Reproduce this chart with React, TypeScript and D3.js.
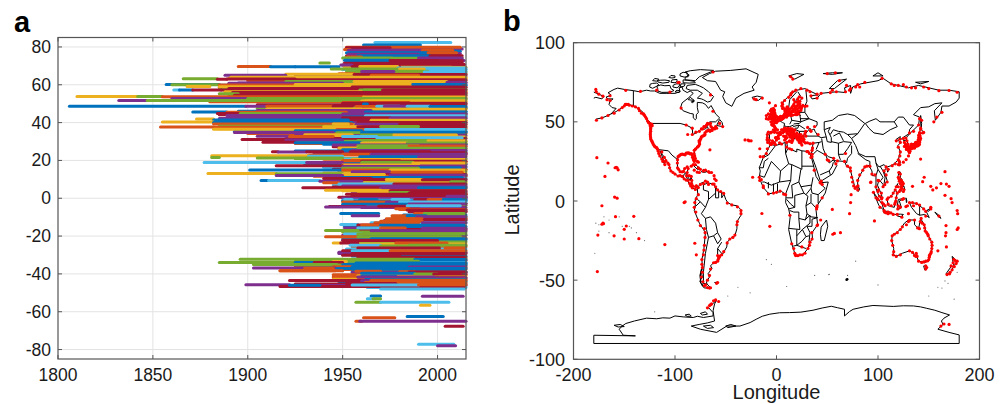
import React from "react";
import * as d3 from "d3";

const B = "#0072BD", O = "#D95319", Y = "#EDB120", P = "#7E2F8E", G = "#77AC30", L = "#4DBEEB", C = "#A2142F";

const yearTicks = [1800, 1850, 1900, 1950, 2000];
const latTicks = [80, 60, 40, 20, 0, -20, -40, -60, -80];
const lonTicksB = [-200, -100, 0, 100, 200];
const latTicksB = [100, 50, 0, -50, -100];

// [latitude, first year, last year, colour]
type Rec = [number, number, number, string];
const recordsBackdrop: Rec[] = [
  [78.9,1955,2013,P],[77.7,1954,2012,B],[76.5,1954,2012,P],[75.3,1952,2013,C],[74.1,1951,2013,G],[72.9,1952,2014,P],[71.7,1951,2013,C],[70.5,1950,2014,C],[69.3,1951,2015,Y],[68.1,1950,2015,L],[66.9,1952,2015,G],[65.8,1948,2015,O],
  [64.6,1925,2015,P],[63.4,1890,2015,Y],[62.2,1900,2015,O],[61,1895,2015,P],[59.8,1885,2015,B],[58.6,1885,2015,C],[57.6,1885,2015,G],[56.6,1888,2015,Y],[55.4,1890,2015,C],[54.8,1890,2015,G],[53,1865,2015,P],[52.2,1880,2015,G],[51,1880,2015,O],[49.4,1905,2015,C],[48,1910,2015,P],[47.6,1905,2015,G],
  [46,1895,2015,B],[45,1885,2015,P],[44.2,1885,2015,C],[43.2,1890,2015,B],[42.2,1885,2015,P],[41,1885,2015,C],[39.9,1882,2015,P],[38.8,1885,2015,Y],[37.2,1883,2015,O],[36.8,1885,2015,Y],[35.4,1893,2015,B],[34.2,1900,2015,O],[33.2,1925,2015,P],[32.4,1930,2015,Y],
  [31.6,1920,2015,C],[30.2,1922,2015,G],[29,1925,2015,O],[28.6,1940,2015,B],[27.2,1945,2015,C],[26,1948,2015,P],[25,1925,2015,B],[23.8,1935,2015,P],[22.9,1932,2015,O],[21,1925,2015,G],[20.8,1950,2015,L],[19.3,1940,2015,O],[18.3,1930,2015,B],[17.9,1950,2015,P],[16.4,1940,2015,L],[15.4,1945,2015,C],
  [14.4,1948,2015,G],[13.4,1940,2015,Y],[12.5,1930,2015,C],[11.6,1935,2015,O],[10.8,1945,2015,L],[10.2,1945,2015,P],[8.9,1945,2015,G],[8.2,1950,2015,Y],[7,1945,2015,L],[6,1945,2015,C],[5,1945,2015,O],[3.5,1955,2015,P],[2.5,1958,2015,Y],[1.7,1957,2015,O],[0.5,1948,2015,C],
  [0,1950,2015,P],[-1,1950,2015,L],[-1.5,1950,2015,B],[-2.6,1952,2015,C],[-3.7,1955,2015,G],[-4.9,1960,2015,P],[-6,1980,2015,O],[-7,1987,2015,C],[-8.8,1982,2015,B],[-9.9,1980,2015,G],[-10.6,1976,2015,O],[-11.8,1972,2015,P],[-13,1965,2015,L],[-14.9,1951,2015,B],[-16.5,1952,2015,C],
  [-17.8,1950,2015,G],[-19.6,1950,2015,P],[-21,1950,2015,O],[-22,1950,2015,B],[-23,1952,2015,G],[-24.2,1955,2015,Y],[-25.6,1955,2015,O],[-26.8,1952,2015,L],[-28.5,1948,2015,P],[-30.6,1955,2015,B],[-31.8,1958,2015,G],[-32.9,1940,2015,C],[-33.8,1940,2015,L],[-34.7,1930,2015,B],
  [-35.7,1925,2015,O],[-36.7,1930,2015,G],[-37.7,1932,2015,O],[-38.9,1955,2015,B],[-39.3,1955,2015,P],[-40.5,1945,2015,O],[-41,1958,2015,Y],[-42,1950,2015,C],[-43,1945,2015,O],[-44,1948,2015,B],[-45.4,1925,2015,C],[-46.2,1930,2015,P],[-47.2,1963,2015,L],
];
const recordsArctic: Rec[] = [
  [82.4,1967,2007,L],[81,1961,1991,B],[79.8,1952,2012,O],[79.6,1952,1975,C],[78.6,1951,1954,O],[78.3,1953,1992,P],[78.2,1992,2008,O],
  [77,1952,1995,B],[76.9,1995,2010,O],[76.1,1953,1990,P],[75.4,1958,1996,B],[75.2,1996,2012,C],[74.7,1952,1960,O],[74.2,1950,1976,G],[74,1976,1990,G],[74.1,1990,2013,P],
  [73,1951,1975,B],[72.8,1975,2000,C],[72.7,2000,2013,C],[71.5,1938,1943,G],[71.2,1955,2008,C],[70.8,2008,2014,C],[70.4,1949,1955,P],
  [69.6,1895,1900,O],[69.6,1900,1912,O],[69.5,1912,1925,B],[69.5,1925,1948,B],[69.6,1955,1980,C],[69.6,1959,1979,Y],[68.9,1979,2015,L],[68.3,1944,1980,G],[68.3,1980,1993,Y],[68,1995,2015,L],[67.2,1957,1995,G],[67,1960,1977,P],[66.8,1993,2015,L],
];
const recordsFifties: Rec[] = [
  [65.6,1920,1956,Y],[65,1888,1920,P],[65.4,1956,2015,C],[65,1965,1990,O],[64,1891,2015,Y],[63.2,1866,1884,G],[62.9,1884,1889,C],[63,1889,1925,C],[62.7,1925,2015,C],
  [61.8,1920,1962,G],[61.7,1956,2005,Y],[61.3,2005,2015,P],[60.8,1890,1950,P],[60.2,1857,1885,B],[60,1860,1885,G],[59.9,1885,1925,O],[60.2,1925,1986,Y],[60.2,1987,2015,B],
  [59.1,1868,1880,Y],[59,1885,1960,Y],[58.8,1955,2015,C],[58,1890,1960,C],[57.3,1861,1864,L],[57.2,1864,1871,B],[57.2,1871,1886,C],[57.3,1886,1958,C],[57.3,1959,1971,G],[57.3,1971,2015,C],
  [56.3,1888,1960,Y],[55.9,1892,2015,C],[55.2,1885,1895,G],[54.4,1893,1960,C],[54.3,1960,2015,C],[53.8,1810,1842,Y],[53.8,1842,1855,G],[53.7,1855,1961,O],[53.5,1961,2015,Y],
  [52.8,1860,1945,P],[52.8,1900,2015,G],[51.7,1832,1847,P],[51.7,1847,1962,G],[51.5,1962,2015,Y],[51.4,1960,1980,Y],[50.6,1950,1985,O],[50.2,1950,2015,C],[49.9,1961,1963,B],
];
const recordsForties: Rec[] = [
  [48.6,1806,1899,B],[48.6,1899,1910,P],[48.6,1910,1945,O],[48.6,1945,1955,C],[48.5,1957,1968,O],[48.6,1968,1980,L],[48.6,1972,1984,P],[48.6,1984,1996,L],[48.5,1996,2015,B],
  [47.2,1910,1960,Y],[47,1961,2015,Y],[46.4,1905,1965,P],[45.6,1871,1889,B],[45.5,1889,1952,O],[45.6,1962,2015,B],[44.8,1884,1896,C],[44.8,1896,1950,G],[44.6,1950,2015,P],
  [43.8,1889,1949,P],[43.6,1962,2015,L],[42.8,1895,1950,P],[42.6,1950,1975,C],[42.6,1975,2015,P],[41.9,1873,1882,Y],[41.4,1882,1953,B],[41.2,1965,2015,Y],
  [40.3,1855,1882,Y],[40.1,1882,1955,B],[40,1958,2015,C],[39.3,1882,1955,O],[39.2,1945,1953,Y],[39.1,1957,1980,P],[39,1980,2015,C],[38.1,1885,1945,G],[37.7,1854,1882,O],[37.6,1882,1940,O],[37.8,1940,1960,Y],[37.8,1958,2015,C],[37.9,1970,1990,G],
  [36.5,1882,1947,Y],[36.4,1947,1962,O],[36.3,1962,2015,L],[35.7,1925,1960,B],[34.8,1893,1945,P],[34.7,1947,1960,G],[34.9,1960,2015,B],[33.6,1930,1955,Y],[33.5,1960,1977,G],[33.5,1977,2010,Y],[32.8,1905,1922,P],[32.7,1922,1945,O],[32.7,1950,1968,L],[32,1968,2013,L],
];
const recordsTropicNorth: Rec[] = [
  [31,1897,1920,C],[30.8,1920,1950,P],[30.6,1958,1995,G],[30.4,1995,2015,Y],[29.6,1908,1925,C],[29.3,1925,1960,B],[29.2,1960,1984,Y],[29.2,1984,2015,G],[28.2,1945,2015,P],[27.8,1958,1990,G],[27.6,1985,2015,O],
  [26.6,1948,1958,Y],[26.5,1958,2015,G],[25.7,1950,1957,B],[25.2,1955,2015,P],[24.6,1913,1916,C],[24.5,1916,1931,P],[24.6,1931,1950,C],[24.6,1954,1996,C],[24,1996,2015,C],[23.3,1950,1965,O],[23.2,1965,2015,P],
  [22.5,1881,1932,Y],[22.2,1932,1950,L],[22,1959,1990,B],[22,1990,2015,P],[21.6,1881,1885,G],[21.3,1905,1950,G],[20.5,1955,2015,Y],[20,1950,1980,O],[19.6,1960,2015,C],[18.9,1877,1931,L],[18.9,1931,1950,P],[19,1960,1987,G],[18.7,1987,2015,Y],
  [17.6,1950,1990,Y],[17.2,1915,1950,C],[16.8,1950,2015,P],[16.1,1990,2012,B],[15.9,1950,1990,G],[14.9,1901,1949,B],[14.9,1950,1975,O],[15,1975,2015,Y],[14,1955,1975,P],[13.7,1976,2013,O],[13.1,1879,1915,Y],[13,1915,1950,G],[12.6,1950,1972,Y],[12.2,1975,2015,P],
  [12,1915,1950,P],[11,1950,1976,B],[11,1976,2013,B],[10.5,1940,1965,C],[9.9,1958,1973,C],[9.9,1973,1992,Y],[9.8,1992,2015,C],[9.4,1907,1911,B],[9.4,1911,1938,L],[9,1938,1960,P],[8.7,2007,2014,G],[8.2,1940,1948,O],[7.6,1948,1977,L],[7.5,1977,2015,C],
];
const recordsEquator: Rec[] = [
  [6.5,1950,2015,P],[5.5,1929,1970,C],[5.6,1970,1990,P],[5.5,1990,2015,B],[4.2,1941,1970,Y],[4,1950,1975,Y],[4,1975,2015,C],[3,1975,1985,G],[2.8,1985,2015,C],[2.1,1952,2015,C],[1.4,1955,2005,C],[1,2005,2015,P],
  [-0.7,1951,1955,L],[-0.7,1959,1968,B],[-0.7,1976,1985,L],[-0.7,1988,1995,C],[-0.7,1995,2005,O],[-0.7,2003,2015,B],[-2,1950,1960,O],[-2,1960,1975,O],[-2.1,1973,1990,P],[-2,1980,2015,L],[-3.2,1950,1985,B],[-3,1985,2015,P],
  [-4.4,1943,1962,C],[-4.6,1941,1969,P],[-4.2,1969,1990,C],[-4,1984,2012,L],[-5.5,1978,1985,O],[-6.2,1984,2015,C],[-7.2,1985,2015,C],[-8.1,1949,1969,B],[-8.1,1988,2000,O],[-8.1,1993,2014,G],[-9.2,1955,1969,P],[-9.3,1976,1984,O],[-9.2,1984,1994,B],[-9.8,1989,2015,P],
  [-10.8,1973,1992,O],[-11.2,1993,2015,C],[-12.2,1970,1992,O],[-12.9,1967,1990,O],[-12.9,1992,2015,P],[-13.9,1949,1958,L],[-14.2,1958,1970,C],[-14.2,1960,1975,O],[-14.3,1970,2014,B],[-15.7,1951,1958,P],[-15.7,1958,1970,L],[-15.7,1970,1983,O],[-15.8,1992,2015,P],
  [-17.1,1941,1958,G],[-17.2,1965,2015,P],[-18.9,1951,1960,L],[-18.9,1958,2015,G],[-20.3,1941,1958,O],[-20.3,1958,2012,G],[-21.4,1965,2015,B],[-22.4,1950,2000,C],
  [-23.6,1945,1949,Y],[-23.6,1949,1958,C],[-23.7,1978,2005,O],[-24.8,1954,1970,L],[-24.8,1985,2015,G],[-25.2,1970,1990,G],[-26.3,1958,2001,C],[-26.3,2004,2014,O],[-27.7,1950,1975,C],[-27.7,1955,1975,L],[-27.8,1975,2015,O],
  [-29.2,1948,1960,P],[-29.2,1955,2015,C],[-31,1958,2015,C],[-30.2,1950,1980,C],
];
const recordsSouth: Rec[] = [
  [-32.3,1896,1950,G],[-32.3,1950,1988,G],[-32.4,1988,2015,B],[-33.3,1925,1990,G],[-33.5,1945,1952,Y],[-34,1885,1925,G],[-34,1925,1935,B],[-34,1935,1950,C],[-34.2,1957,2015,B],[-35,1903,1947,G],[-35.3,1925,1950,G],[-35.2,1950,2015,B],
  [-36.2,1945,1955,O],[-36.2,1955,1985,B],[-36.4,1985,2015,P],[-36.9,1903,1946,P],[-37,1930,1945,O],[-37.2,1947,2015,B],[-38.3,1917,1950,O],[-38.4,1917,1946,O],[-38.6,1957,1970,O],[-38.8,1980,1988,O],[-39,1985,2015,C],
  [-39.7,1960,1988,B],[-40.1,1988,2000,G],[-40,1998,2015,C],[-41.6,1945,1957,O],[-41.3,1960,1978,B],[-41.7,1958,1998,P],[-42.2,1995,2015,P],[-42.8,1945,1957,Y],[-42.9,1962,1997,B],[-43,1978,2014,B],[-43.5,1922,1963,C],[-43.6,1960,1970,P],[-43.4,1965,2015,O],
  [-44.6,1962,2015,O],[-44.7,1962,1978,O],[-45.1,1952,1978,C],[-45.8,1899,1922,P],[-46.6,1917,2014,C],[-46,1922,1938,B],[-45.9,1955,1990,L],[-45.8,1990,2015,O],[-48,1970,2014,L],
];
const recordsPolar: Rec[] = [
  [-51.7,1965,1970,B],[-51.8,1992,2013.5,P],[-53.2,1963,1967,L],[-53.2,1966,1970,G],[-55,1957,1970,G],[-55,1970,2006,L],[-56.6,1991,1996,Y],[-62.5,1984,2003,B],[-63.2,1961,1977.5,O],[-65,1957,1960,O],[-65,1959,2015,P],[-67.7,2004,2013.5,C],[-77.2,1990,2008.6,L],[-78,2000,2009.5,P],
];

// Coastlines and borders, [longitude, latitude]
type Pt = [number, number];
const northAmerica: Pt[] = [[-168,65.6],[-164,66.5],[-163,67],[-166,68.4],[-160,70.5],[-156.5,71.3],[-150,70.5],[-141,69.7],[-135,69],[-128,70],[-124,69.5],[-120,69.5],[-115,68],[-108,68],[-100,68],[-95,69],[-96,71.5],[-93,72],[-92,70],[-88,68.5],[-85,69.5],[-82,68],[-87,65],[-93,62],[-94.5,59],[-92,57],[-85,55.3],[-82,55],[-82,52.5],[-80,51.3],[-79,52],[-79,54.5],[-77,56],[-78,59],[-78,62.3],[-73,62],[-70,61],[-67,58.5],[-64.5,60.3],[-62,57.5],[-60,55],[-56,52.5],[-60,50],[-66,50],[-70,47],[-65,49],[-65,47],[-61,46],[-66,44],[-67,45],[-70,43.5],[-70,41.7],[-74,40.5],[-75.5,38],[-76,35],[-78,34],[-81,31.5],[-80,27],[-80.5,25.2],[-82,27],[-83,29.5],[-85,29.7],[-89,30.2],[-90,29],[-94,29.5],[-97,28],[-97.7,24],[-97.5,21],[-95,18.5],[-92,18.5],[-90.5,20.5],[-87,21.5],[-88,17.5],[-88.5,15.8],[-84,15.8],[-83.3,12],[-83.5,10],[-81,9],[-79.5,9.5],[-77.4,8.7],[-78,7.5],[-80,7.4],[-83,8.3],[-85.5,10],[-87.5,13],[-91,14],[-94,16],[-97,15.8],[-102,18],[-105.5,20.3],[-105.3,22],[-109,26],[-112.5,29.5],[-114.7,31.7],[-112,27],[-110,23],[-112,25],[-115.5,29.5],[-117,32.5],[-120.5,34.5],[-122.5,37.5],[-124.3,40.3],[-124,46],[-122.5,48.5],[-127,51],[-130,54.5],[-133,57],[-137,58.5],[-140,60],[-146,61],[-150,60.5],[-152,59],[-158,56.5],[-163,55],[-158,58.5],[-162,59],[-165,61],[-164,63],[-161,64.5],[-166,64.5],[-168,65.6]];
const aleutians: Pt[] = [[-163,55],[-168,53.5],[-172,52.5],[-178,51.7]];
const chukotkaEnd: Pt[] = [[-180,68.8],[-175,67.5],[-170,66],[-172,64.5],[-178,65.5],[-180,65]];
const baffin: Pt[] = [[-62,66],[-65,63],[-68,62.5],[-72,64],[-74,64.5],[-78,65],[-73,68],[-78,70],[-85,70],[-89,71],[-88,73],[-80,73.7],[-76,72.7],[-72,71.5],[-67,69],[-62,66]];
const victoriaIsland: Pt[] = [[-117,69.5],[-113,68.6],[-105,68.7],[-101,69.8],[-104,71],[-105,73],[-110,72.8],[-114,73.3],[-118,72.5],[-117,71],[-117,69.5]];
const banksIsland: Pt[] = [[-125,72],[-122,71.2],[-118,72.5],[-116,73.5],[-118,74.5],[-122,74.3],[-124.5,73.8],[-125,72]];
const ellesmere: Pt[] = [[-90,76.5],[-85,76.3],[-80,76],[-76,78.5],[-65,81.5],[-62,82.5],[-75,83],[-85,82.3],[-90,81.5],[-86,79.5],[-90,78],[-90,76.5]];
const devonIsland: Pt[] = [[-92,74.7],[-86,74.5],[-80,74.7],[-81,75.6],[-88,76.3],[-92,76.5],[-92,74.7]];
const melvilleIsland: Pt[] = [[-117,75.2],[-112,74.5],[-106,75],[-105.5,76],[-110,76.4],[-114,76.3],[-117,76.2],[-117,75.2]];
const axelHeiberg: Pt[] = [[-95,79],[-91,78.3],[-87,78.5],[-88,80],[-88,81],[-92,81.3],[-95,80.3],[-95,79]];
const princeWales: Pt[] = [[-102,72],[-98,71.5],[-96,72.5],[-95,74],[-99,74],[-102,73],[-102,72]];
const somerset: Pt[] = [[-95,72],[-91,72.5],[-90,74],[-94,74],[-95,72]];
const bathurst: Pt[] = [[-104,75],[-100,74.7],[-98,75.5],[-98,76.8],[-103,76.5],[-104,75]];
const ringnes: Pt[] = [[-106,78],[-103,77.7],[-100,78],[-100,79],[-104,79.3],[-106,78]];
const princePatrick: Pt[] = [[-122,76],[-118,75.7],[-116,77],[-120,77.4],[-122,76]];
const kingWilliam: Pt[] = [[-100,69],[-96,68.5],[-95,69.5],[-98,70],[-100,69]];
const coats: Pt[] = [[-84,62.7],[-81,63],[-83,62],[-84,62.7]];
const southampton: Pt[] = [[-87,64],[-81,63.5],[-85,65.5],[-87,64]];
const newfoundland: Pt[] = [[-59,47.7],[-53,47],[-53.5,49.5],[-56,51.5],[-59,47.7]];
const vancouverIsland: Pt[] = [[-128,50.5],[-123.5,48.4],[-125,50],[-128,50.5]];
const cuba: Pt[] = [[-85,22],[-80,23],[-74.5,20.2],[-78,20],[-82,22.5],[-85,22]];
const hispaniola: Pt[] = [[-74,18.5],[-72,20],[-68.5,18.6],[-71,18],[-74,18.5]];
const greenland: Pt[] = [[-73,78],[-68,76],[-60,75.5],[-55,70],[-51,69],[-53,66],[-50,62],[-44,59.8],[-40,65],[-32,68],[-22,70],[-24,72],[-20,75],[-18,80],[-30,83.5],[-45,82.5],[-60,82],[-66,80.5],[-73,78]];
const iceland: Pt[] = [[-24,65.5],[-19,66.3],[-14,65.5],[-18,63.5],[-22.5,64],[-24,65.5]];
const southAmerica: Pt[] = [[-77.4,8.7],[-75,11],[-72,12],[-72,10],[-68,11.5],[-62,10.7],[-60,8.5],[-57,6],[-52,4.7],[-50,1],[-48,-1],[-44,-2.5],[-39,-3],[-35,-5.5],[-35,-9],[-39,-13],[-39,-17.5],[-41,-22],[-45,-23.5],[-48.5,-26],[-49,-29],[-53,-33.5],[-57,-35],[-58,-38],[-62,-39],[-65,-41],[-63.5,-42.5],[-67.5,-46],[-66,-48],[-69,-51],[-68.5,-52.5],[-65,-54.7],[-71,-55],[-74.5,-52],[-75.5,-47],[-73,-42],[-73.5,-37],[-71.5,-30],[-70,-20],[-76,-14],[-81,-6],[-80,-2.5],[-80,1],[-77.5,4],[-78,7.5],[-77.4,8.7]];
const chileFjords: Pt[] = [[-73,-42],[-74,-45],[-73,-48],[-75,-50],[-72,-52],[-74,-53],[-71,-54]];
const chileFjordsOuter: Pt[] = [[-74,-43],[-75,-46],[-74.5,-49],[-75.5,-51],[-73,-53],[-72,-54.5]];
const falklands: Pt[] = [[-61,-51.5],[-58,-51.3],[-59,-52.3],[-61,-51.5]];
const africa: Pt[] = [[-6,35.8],[-1,35],[10,37.2],[11,33.5],[15,32.3],[20,31],[20,32.8],[25,31.7],[32,31.2],[34.2,28],[37,21],[39,15.5],[43,11.5],[51,12],[48,5],[40,-3],[39,-6],[40.5,-15],[35,-20],[35.5,-24],[32.7,-26],[31,-30],[26,-34],[20,-34.8],[18,-33],[15,-27],[12,-18],[13.5,-10],[12,-5],[9,-1],[9.5,4],[5,6],[-4,5],[-7.5,4.5],[-13,8.5],[-17,14.7],[-16,19],[-17,21],[-13,27.5],[-9.5,31],[-6,35.8]];
const madagascar: Pt[] = [[49.3,-12],[50.5,-16],[47,-25],[44,-25],[43.3,-21],[44,-16.5],[49.3,-12]];
const eurasia: Pt[] = [[-9,37],[-9.5,39],[-9,43.5],[-1.7,43.5],[-1,46],[-4.7,48.5],[-1.5,49],[1.5,51],[4,52],[8,54],[8.5,57],[10.5,57.7],[10,54.5],[14,54],[19,54.5],[21,57],[24,57.5],[23,59.5],[30,60],[23,60],[21,61],[25,65],[22,65.8],[17.5,62],[18,59.5],[16.5,56.5],[13,55.4],[11,59],[7,58],[5,60],[7,63],[14,67.5],[20,70],[28,71],[41,67],[33,66.5],[35,64.5],[40,65],[44,68],[54,68.7],[60,69],[68,68.5],[67,71.5],[73,73],[73,68],[75,72],[83,74],[100,76],[105,77.5],[113,74],[130,71.5],[140,73],[160,70],[170,70],[180,69],[180,65],[177,62.5],[170,60],[163,60],[162,56],[156.5,51],[155.5,57],[163,62],[156,61.5],[150,59.5],[142,59],[135,54.5],[141,53],[140,48],[132,43],[127.5,39.8],[129.5,36],[126.5,34.5],[126,37],[125,39.5],[121.5,39],[122,40.7],[118,39],[122.5,37],[119.5,35],[122,31],[120,26],[114,22.5],[109,21.5],[106,19],[109,13],[105,9],[105,10.5],[101,13.5],[99.5,10],[103.5,4],[104,1.5],[101,3],[98,8],[98,16],[94.5,16],[94,19],[91,22.5],[87,21.5],[82,16],[80,13],[80,10],[77.5,8],[73,19],[72,21],[69,22],[67,25],[57,25.5],[56,27],[51,28],[48,30],[50,26.5],[52,24],[56,26],[59.5,22.5],[55,17],[45,13],[43,13],[39,21],[35,28],[34.5,31.5],[36,36],[30,36.3],[27,37],[26.5,40],[29,41],[41,41],[38,44],[37,45.5],[34,44.5],[33,46],[28,42],[26,40.7],[23,40.5],[24,38],[23,36.5],[20,39.5],[19,42],[13.5,45.5],[12.5,44],[16,41.7],[18.5,40],[16,38],[12.5,41.5],[9,44.3],[3.5,43],[0,39.5],[-2,37],[-5.5,36],[-9,37]];
const caspian: Pt[] = [[47,45],[53,46.5],[51,44],[54,40],[54,37],[50,37.5],[49,40.5],[47,45]];
const britain: Pt[] = [[-5.5,50],[1,51],[1.7,52.7],[-1.5,55],[-2,57.5],[-5,58.5],[-5,55],[-3,53.5],[-5,52],[-3,51.4],[-5.5,50]];
const ireland: Pt[] = [[-10,52],[-6,52.2],[-6,55],[-10,54],[-10,52]];
const svalbard: Pt[] = [[12,79],[20,80.5],[27,80],[18,77],[12,79]];
const novayaZemlya: Pt[] = [[52,71],[57,71],[69,77],[60,76],[52,71]];
const franzJosef: Pt[] = [[46,80.5],[55,81],[65,81],[55,80],[46,80.5]];
const severnaya: Pt[] = [[95,79],[105,79],[100,81],[95,79]];
const newSiberian: Pt[] = [[137,75],[150,75.5],[142,74],[137,75]];
const honshu: Pt[] = [[131,34],[136,34],[140,35],[142,39.5],[140.5,41],[139.5,38],[136,36.5],[132,35.5],[131,34]];
const hokkaido: Pt[] = [[140,42],[142,45.5],[145,43.5],[141,42],[140,42]];
const kyushu: Pt[] = [[130,31.5],[132,33],[130,33.5],[130,31.5]];
const sakhalin: Pt[] = [[142,54],[143,49],[142.5,46],[142,50],[142,54]];
const taiwan: Pt[] = [[121,25],[122,24.8],[120.8,22],[120,23],[121,25]];
const hainan: Pt[] = [[109,20],[111,20],[109.5,18.2],[109,20]];
const sriLanka: Pt[] = [[80,9.7],[82,7.5],[80.5,6],[80,9.7]];
const luzon: Pt[] = [[120,16],[120.5,18.5],[122,18.3],[122,15],[124,13],[120.7,14],[120,16]];
const visayas: Pt[] = [[122,11.5],[125,12],[125,10],[122,10],[122,11.5]];
const palawan: Pt[] = [[117.2,8.4],[119.5,11],[119,10],[117.2,8.4]];
const mindanao: Pt[] = [[122,7],[125.5,9.5],[126.5,7],[124,6],[122,7]];
const borneo: Pt[] = [[109,1],[113,3],[117,7],[119,5],[117.5,1],[116,-4],[110,-3],[109,1]];
const sumatra: Pt[] = [[95.5,5.5],[104,-2],[106,-6],[101,-3],[95.5,5.5]];
const java: Pt[] = [[105,-6.5],[110,-6.5],[114.5,-8],[106,-7.5],[105,-6.5]];
const sulawesi: Pt[] = [[120,1],[125,1.5],[121,0],[123,-4],[120,-5.5],[119,-3],[120,1]];
const lesserSunda: Pt[] = [[116,-8.5],[122,-8.3],[125,-8.5],[123,-10],[119,-9.5]];
const moluccas: Pt[] = [[127.5,2],[128.5,0],[128,-1],[127.5,2]];
const newGuinea: Pt[] = [[131,-1],[138,-1.5],[147,-6],[150.5,-10.5],[146,-8.5],[141,-9],[138,-8],[133,-4],[131,-1]];
const newBritain: Pt[] = [[148,-6],[152,-4.5],[150,-6.5],[148,-6]];
const solomons: Pt[] = [[156,-7],[160,-9],[162,-11],[159,-9.5],[156,-7]];
const australia: Pt[] = [[114,-22],[122,-18],[126,-14],[130,-12],[136,-12],[136,-15],[140,-17.5],[142,-11],[145.5,-15],[147,-19],[153,-26],[153,-31],[150,-37.5],[146,-39],[140,-38],[138,-35],[136,-35],[135,-33],[131,-31.5],[124,-33],[118,-35],[115,-34],[115.5,-30],[113.5,-25],[114,-22]];
const tasmania: Pt[] = [[145,-41],[148,-41],[147,-43.5],[146,-43.5],[145,-41]];
const newZealandNorth: Pt[] = [[173,-35],[178,-38],[175,-41],[174,-39],[173,-35]];
const newZealandSouth: Pt[] = [[172.5,-41],[174,-42],[170.5,-46],[167,-46],[172.5,-41]];
const antarctica: Pt[] = [[-180,-84.8],[-139,-85.2],[-151,-84.8],[-155,-81],[-152,-79],[-148.5,-77.4],[-140,-75.8],[-128,-74],[-118,-74.4],[-112,-73.8],[-105,-74],[-100,-72.6],[-92,-73.2],[-82,-73.6],[-78,-72.8],[-72,-73.6],[-62.5,-72.6],[-62.5,-70.5],[-67,-67.3],[-59,-62.7],[-61,-65],[-62.5,-69.4],[-61,-75.8],[-68,-77],[-75.5,-77.9],[-84,-79],[-75,-81],[-59,-83],[-49,-79],[-36,-79],[-26,-76.8],[-20,-74.7],[-14,-72.8],[-6.6,-71.5],[3,-70.6],[13,-70.5],[24,-70.2],[36,-69],[45,-67.6],[54,-66.5],[60,-67.4],[67,-68.4],[67,-72.6],[72,-69.8],[75.5,-68.4],[86,-66.9],[95,-66],[105,-66.3],[115,-66.6],[125,-66.2],[135,-66.3],[142,-66.9],[148,-67.8],[156,-69],[163,-70.5],[170.5,-72],[165,-74],[162.5,-75.8],[164,-78],[159,-81],[170,-83],[180,-84.6],[180,-90],[-180,-90],[-180,-84.8]];
const iceShelfIslands: Pt[][] = [
  [[-50,-79],[-45,-78],[-40,-79],[-48,-80],[-50,-79]],[[-72,-79],[-65,-78.5],[-62,-80],[-68,-80.5],[-72,-79]],[[-160,-78.5],[-154,-78],[-150,-79.3],[-156,-79.6],[-160,-78.5]],[[-75,-71],[-70,-70],[-68,-71.5],[-73,-72],[-75,-71]],[[-90,-72],[-86,-71.5],[-84,-72.7],[-88,-72.9],[-90,-72]],
];

const bordersNorthAmerica: Pt[][] = [
  [[-141,69.7],[-141,60]],[[-137,58.5],[-133,56]],[[-123,49],[-95,49],[-89,48],[-83,46],[-82.5,42],[-79,43],[-75,45],[-70,45.5],[-68,47],[-67,45]],
  [[-117,32.5],[-106.5,31.7],[-103,29],[-97.2,26]],[[-92,14.5],[-91,17],[-89,18],[-89,15.5]],[[-89,15.5],[-87,13]],[[-88,15.8],[-85,13],[-84,15.8]],[[-85.5,11],[-83.7,11]],[[-83,8.3],[-82.7,9.5]],
];
const bordersSouthAmerica: Pt[][] = [
  [[-80,-3.5],[-75,-0.5],[-78,1]],[[-72,12],[-72,7],[-67,6],[-67,1]],[[-75,-0.5],[-70,-4],[-67,1]],[[-70,-4],[-74,-8],[-70,-11]],
  [[-70,-11],[-65,-10],[-60,-14],[-58,-20],[-62,-22],[-67,-23],[-69,-18],[-70,-11]],[[-58,-20],[-54.5,-24],[-58,-27],[-62,-22]],[[-67,-23],[-70,-33],[-72,-45],[-72,-52],[-68.5,-52.5]],
  [[-58,-34],[-58,-30],[-53.5,-33.5]],[[-58,-30],[-54,-26]],[[-60,8.5],[-60,2],[-57,2],[-57,6]],[[-54,5.5],[-54,2]],[[-52,4],[-54,2]],[[-67,1],[-60,5]],
];
const bordersAfrica: Pt[][] = [
  [[-1,35],[-8,29],[-13,27.5]],[[-17,21],[-13,21],[-12,25],[-8,27]],[[-5,25],[-12,15],[-16.5,16]],[[-5,25],[4,19],[12,23.5]],[[9,30],[12,23.5]],[[8.5,37],[9,30],[11,33]],[[25,31.7],[25,20]],[[25,20],[15,23],[12,23.5]],[[25,22],[37,22]],
  [[24,20],[22,12],[27,5]],[[15,23],[14,13]],[[3,12],[14,13]],[[4,19],[3,12]],[[-12,12],[-5,10],[3,12]],[[14,13],[9,4.5]],[[9.5,2],[16,2],[15,10],[22,12]],[[12,-5],[18,-4],[18,3.5],[27,5],[31,3],[29,-3],[30,-8],[28.5,-12],[22,-11],[22,-7],[17,-7],[13,-6]],
  [[36,15],[34,8],[35,5],[41,4],[48,8],[43,11]],[[24,9],[34,10]],[[41,-1.5],[41,4]],[[34,4.5],[34,-1],[39,-4.5]],[[34,-1],[29,-3]],[[30,-8],[34,-10],[40.5,-10.5]],[[12,-17.3],[23,-18],[22,-11]],[[20,-18],[20,-28],[16.5,-28.5]],
  [[20,-22],[25.5,-18],[29,-22.5],[25,-25.5],[20,-28]],[[28,-12],[33,-9],[33,-14],[25.5,-18]],[[40.5,-10.5],[35,-11.5],[35,-16],[30,-16],[33,-20],[32,-26]],[[-3,5],[-3,11]],[[1,6],[1,11]],[[-8,8],[-8,12]],[[29,-22.5],[32,-22]],[[20,-28],[29,-30]],[[-14,12],[-12,12]],[[10,1],[14,-2],[18,-4]],[[34,8],[29,4]],
];
const bordersEurope: Pt[][] = [
  [[-1.7,43.4],[3,42.4]],[[-7,37],[-7,42],[-9,42]],[[3,50.8],[6,49.5],[8,49],[7.5,47.5]],[[7.5,47.5],[7,44]],[[7.5,47.5],[10,47],[13,47],[17,48]],[[14,54],[15,51],[24,50]],[[6,51],[7,53.5]],[[13,48.5],[15,51]],[[23,54.3],[24,50],[22.5,49]],[[17,48.7],[22.5,49]],[[16.5,47],[22,48],[21,46],[18,46]],
  [[22,48],[28,45.5]],[[22.5,44],[28,44]],[[14,45.5],[19,45],[22.5,44],[23,41],[20,41]],[[24,50],[32,52],[40,50],[40,48],[38,46.5]],[[21,56],[28,56]],[[23.5,52],[32,52]],[[28,60],[28,56],[32,52]],[[12,59],[13,64],[20,69]],[[24,66],[21,69]],[[28,60],[30,63],[29,70]],[[26,41.5],[28,42]],[[9,54.8],[9.8,54.8]],[[24,54],[21,55]],
];
const bordersAsia: Pt[][] = [
  [[47,50],[55,51],[61,54],[70,55],[77,54],[87,49]],[[47,50],[47,45]],[[87,49],[80,42.5],[70,42],[66,43.5],[61,44],[56,45],[53,42]],[[87.5,49],[92,50.5],[98,52],[102,50],[107,50],[116,50],[119,47],[112,45],[105,42],[96,43],[91,46],[87.5,49]],
  [[116,50],[120,53],[125,53],[131,48],[135,48],[131,45],[131,43]],[[80,42.5],[74,39.5],[78,35],[81,30],[88,28],[97,28],[98,24],[101,21.5],[106,23],[108,21.5]],[[74,35],[74,30],[70,27],[69,24]],[[74,37],[70,33],[66,29.5],[61,29.5],[63,26]],[[61,29.5],[61,36.5]],[[61,36.5],[54,37.5]],[[61,36.5],[66,37.5],[74,37]],[[56,41],[62,43],[66,38]],
  [[44.5,39.5],[46,33],[48,30]],[[36,36.5],[42,37],[44.5,37.5]],[[41,41],[44,40],[49,40.5]],[[36,29.5],[40,32],[47,29.5]],[[43,16.5],[52,19],[53,16.5]],[[52,19],[55,22],[56,24.5]],[[42,37],[39,32.5]],[[100,20],[98,16]],[[98,24],[100,20]],[[102,22],[105,19],[107,15],[106,11]],[[100,20],[105,15],[103,13]],[[88,26],[92,25],[92,21]],[[125,38],[128.5,38.5]],[[124.5,40],[130.5,42.5]],[[70,42],[74,39.5]],[[36,33],[35,31]],[[80,30],[88,26]],
];
const bordersOceania: Pt[][] = [[[141,-2.5],[141,-9]]];

// Tide gauge stations, [longitude, latitude]
const stationsPacificAmerica: Pt[] = [[-178,70.5],[-177.5,69],[-175,67.5],[-171,66.2],[-167,64],[-164,66.5],[-164,63.5],[-177.4,51],[-172,52.5],[-166,54],[-160,55.5],[-155,57.5],[-152,59],[-150,60],[-149,61],[-147.5,61],[-146,61],[-145,60.5],[-142,60],[-139,59.5],[-136,58.5],[-135,57],[-133,55.5],[-131,55],[-130,54],[-129,53],[-128,52],[-127,50.5],[-126,49.5],[-125,49],[-124,48.5],[-123,48],[-124,47],[-124,46],[-124,45],[-124,44],[-124.3,43],[-124.3,42],[-124.2,41],[-124,40],[-123.8,39],[-123,38],[-122.5,37.5],[-122,36.8],[-121.5,36],[-120.7,35.2],[-120,34.5],[-119,34],[-118,33.7],[-117.5,33],[-117,32.5],[-116.5,31.5],[-116,30],[-115,28.5],[-113,26.5],[-112,25],[-110,23],[-109.5,25],[-110.5,27.5],[-113,31],[-109,25.5],[-107,24],[-106,23],[-105.3,21],[-104,19],[-102,18],[-100,17],[-97,15.8],[-95,16],[-93,15.5],[-91,14],[-89,13.2],[-87,13],[-85.5,11],[-84.5,9.5],[-83,8.3],[-80,7.3],[-79.5,9],[-79,9.4],[-123,48.5],[-122.5,47.5],[-130.5,54.5],[-124.5,47.5]];
const stationsGulfAtlantic: Pt[] = [[-97,28],[-96,28.5],[-95,29],[-94,29.5],[-93,29.7],[-92,29.5],[-91,29.3],[-90,29.2],[-89,30.3],[-88,30.3],[-87,30.4],[-86,30.2],[-85,29.7],[-84,30],[-83,29],[-82.7,27.7],[-82,26.7],[-81.8,26],[-81,25],[-80.2,26],[-80,27],[-80.6,28.5],[-81.3,30],[-81,32],[-80,32.7],[-79.5,33],[-78,34],[-77,34.6],[-76.5,35],[-75.7,36],[-76,37],[-76.3,38],[-75.5,38],[-75,39],[-74.5,39.5],[-74,40.6],[-73,41],[-72,41.2],[-71,41.5],[-70.5,42],[-70.5,43],[-69,44],[-68,44.4],[-67,44.7],[-66,44.8],[-65.5,44],[-64,44.8],[-63.5,44.6],[-63,46],[-64.5,47],[-66,48.5],[-68,49],[-70,47],[-53,47],[-59,46],[-60,47],[-56,49],[-61,45.5],[-62,45.8],[-71,46.8],[-71.5,47],[-69,48],[-65,49],[-74,45.5],[-73,45.5],[-79.5,43.5],[-83,42],[-76,44],[-87.5,42],[-83,46],[-89,48],[-65.6,32.3],[-31,38.6],[-27,38],[-62.6,81.5],[-65,67],[-94,58.7],[-62.6,56.7],[-148.5,69.9],[-134,69.3],[-118,70],[-105,68.8],[-96,75],[-97,74.8],[-97.5,21],[-97.7,24],[-97.5,26],[-96.5,20],[-95,18.5],[-93,18.4],[-91.5,18.7],[-90.5,20.5],[-88,21.5],[-87,20.5],[-88,18],[-88.5,16],[-86,16],[-84,15.5],[-83.5,13],[-83.7,11],[-82.5,9.5]];
const stationsCaribbean: Pt[] = [[-82,23],[-80,23],[-77,21],[-75,20],[-76,18],[-72,19],[-70,19.5],[-67,18.5],[-66,18],[-64,18],[-61.5,16],[-61,14],[-59.5,13],[-68,12],[-70,12.5],[-75,10.5],[-72,11],[-67,10.5],[-63,10.7],[-61.5,10.7],[-60,9],[-78,18.2],[-84,22],[-78,25],[-77,24.5],[-81,19.5],[-79,9.6],[-77,8.5]];
const stationsPacificIslands: Pt[] = [[-177,27.4],[-166,24],[-169,15.5],[-159,21],[-158,21.3],[-157,20.9],[-156,19.7],[-159.5,2.5],[-157,1.8],[-172,-3],[-158.6,-9.9],[-140.6,-9.7],[-172,-14.7],[-170.5,-14.3],[-176,-21.5],[-160,-22],[-148,-15.8],[-150,-17.9],[-150,-24],[-135.6,-23.8],[-176.5,-44.6],[-91,-1],[-90,-0.5],[-110,-27.5],[-80.5,-26.7],[-79,-34],[142,26.5],[166,18.5],[162,11],[170,9.3],[167.4,10.7],[134,9.3],[152,9.3],[157.6,8.3],[154,7],[166,3.6],[144,12.2],[145.5,15],[178,-6],[179,-17],[178,-18],[167,-15.5],[167,-20],[166.5,-22],[159,-31.5],[167.4,-29],[160,-9.5],[152,-5],[172,1.5],[173,-1],[-171,-14],[178.5,-8]];
const stationsSouthAmerica: Pt[] = [[-77,4],[-79,1.5],[-80.5,-1],[-81,-4],[-79.5,-7],[-77.5,-12],[-75,-15.5],[-71,-17.5],[-70.3,-20],[-70.4,-23],[-71,-28],[-71.5,-31],[-72,-34],[-73.5,-37],[-73.5,-40],[-73,-42],[-73,-45],[-74,-48],[-72.5,-51],[-71,-53.5],[-70,-53],[-68,-54.7],[-66,-55],[-65,-54.8],[-58,-51.5],[-59,-52],[-68,-50],[-66,-47],[-65,-43],[-62,-39],[-60,-38.8],[-58,-38],[-57,-36],[-58,-34.5],[-56,-34.8],[-54,-34],[-52,-32],[-48.6,-26.5],[-46,-24],[-43,-23],[-41,-21.5],[-39,-15],[-38.5,-13],[-35,-8],[-35,-6],[-38.5,-3.7],[-44,-2.5],[-48.5,-1.3],[-52,4.8],[-55,6],[-58,7],[-57.5,-37],[-56.5,-35.5],[-64,-65],[-60,-62.5],[-57,-63.5],[-68,-67.5],[-62,-63],[-66,-66],[-65,-65.5]];
const stationsAfrica: Pt[] = [[-6,35.7],[-9,33],[-10,30],[-13,28],[-16,28],[-17,15],[-16.5,13],[-13,9.5],[-13,8.5],[-8,4.5],[-3,5],[0,5.5],[3.5,6.3],[7,4.4],[9,4],[13.2,-9],[18.5,-34],[18,-33],[17,-30],[15,-27],[19,-34.5],[21,-34.5],[23,-34],[25.5,-34],[28,-33],[31,-30],[32.5,-28],[33,-26],[35,-24],[34.8,-20],[39.5,-5],[39.7,-4],[40,-3],[45,2],[45,10.5],[43,11.5],[37.2,19.5],[35,28],[34,27.5],[32.5,30],[31,31.2],[30,31.2],[35,32],[35.5,33.5],[36,36.5],[15,32.5],[13,33],[10,34],[10,37],[3,36.8],[-1,35.7],[-5,35.8],[-14.4,-7.9],[-6.6,-16],[55,-5.3],[72,-8],[73,-1],[55.5,-21],[57,-20.5],[63,-20],[96.5,-12.6],[40.5,-15],[-25,38],[-28,38.5],[-16.5,33],[-23.5,15],[-15,13.5],[25,-29],[40,-15.5],[43.5,-12]];
const stationsEurope: Pt[] = [[-5.5,50],[-4,50.3],[-2,50.7],[0,50.8],[1.3,51.2],[1.7,52.7],[0,53.5],[-1.5,55],[-2,56],[-2,57.5],[-3,58.5],[-5,58],[-6,57],[-5,55.5],[-3.5,54.5],[-3,53.5],[-4.5,53],[-5,52],[-3.5,51.5],[-6,54],[-8,55],[-10,54],[-10,52],[-8,51.7],[-6,52.5],[-6,53.3],[-7,62],[-1,60.2],[3,51.3],[4,52],[5,53],[7,53.6],[8.5,54],[8.5,55.5],[8.2,57],[10.5,57.5],[10.5,56],[10,54.5],[11,54],[12,54.3],[13.5,54.3],[14.5,54],[16,54.3],[18.5,54.6],[20,54.5],[21,55.5],[21,57],[24,57.2],[24.5,58.5],[23.5,59],[25,59.5],[28,59.8],[30,60],[26,60.4],[23,60],[21.3,61],[21.5,63],[25,65],[22.5,65.8],[21,64.5],[18,62.5],[17,61],[17.5,60],[18.5,59.5],[16.7,58],[16.5,56.5],[14.5,55.7],[13,55.4],[12.5,56.5],[11.8,58],[11,59],[10.5,59.5],[8.5,58.2],[6,58.5],[5.2,60],[5.5,62],[8,63.5],[12,65.5],[14.5,68],[19,70],[24,71],[30,70],[33,69],[40,67.5],[34,66.5],[40,65],[-1,46],[-1.5,44],[-2,43.4],[-5,43.5],[-8,43.5],[-9,42],[-9,40],[-9.3,38.7],[-8.7,37],[-6,36.5],[-5.5,36],[-4,36.7],[-2,36.8],[0,38.5],[0,40],[2,41.3],[3,42.5],[4,43.4],[6,43.1],[7.5,43.8],[9,44.3],[10.3,43],[12,42],[13.5,41.2],[15,40],[16,38.5],[15.5,38],[13,38],[12.5,37.7],[15,37],[9,39.2],[9.5,41],[8.5,40.5],[18,40.5],[16,41.5],[14,42.3],[13.5,43.6],[12.4,44.5],[12.5,45.4],[13.7,45.7],[15,44.7],[16.5,43.5],[19,42],[19.5,40.5],[21,38.5],[22.5,37],[23.5,38],[24,40],[23,40.5],[26,40.8],[26,39],[27,37.5],[28.5,36.7],[30.5,36.8],[33,36.2],[25,35.3],[28,42.5],[28.7,44],[30.7,46.5],[33.5,44.5],[37.5,47],[41,42],[29,41],[34,44],[-1.5,49.5],[-3,48.7],[-4.7,48.4],[-2.5,47.3],[0,49.5],[1.5,50.5],[2.5,51],[-14,65],[-20,64],[-22,64.5],[-3,52.5],[-1,51.5],[-2.5,54],[-4,56],[3.5,51.8],[4.5,52.5],[6,53.4],[5,51.5],[7,54],[9,54.5],[8,55],[9.5,56],[11,56],[12,55.5],[11,55],[19,56],[18,57.5],[16,60],[20,60],[22,59],[20,58],[14,67],[16,69],[6,61],[6.5,59],[-2,47],[-1.2,45],[-4,47.8],[1,43],[5,45],[8,46],[11,46],[10,45],[12,45],[14,44],[16,43],[17,41],[11,42.5],[13,40.5],[18,42],[20,39.5],[23,38.5],[25,38],[24,36.5],[27,39],[22,40],[8,38.5],[5,36],[2,39.5],[-3,36.7],[20,41],[17,44],[15.5,45.5],[3,43.2],[-1,52.5],[-2,53],[-3,55],[-4,57],[-1,54],[-7,53],[-7.5,52],[2,52],[3,53],[4,53.5],[6,52],[7,52.5],[8,53],[10,53],[9,56.5],[10,57],[12,56.5],[13,58],[15,57],[15,59],[19,58.5],[22,57],[22,55],[23,61.5],[23,63],[20,62.5],[17,64],[1,45],[-3,45],[-6,43],[-1,40],[4,42],[7,41],[10,40],[11,44],[14,41.5],[16,40],[6,45],[9,45.5],[18,45],[20,43],[22,42],[24,42],[-4,38],[-7,38.5]];
const stationsAsia: Pt[] = [[44,68],[53,68.5],[59,69],[68,69],[69,73],[80,73.5],[87,75],[104,77.5],[113,74],[128,72],[137,71.5],[150,71],[160,69.7],[170,69.8],[178,68.7],[73,71],[55,70],[62,76],[72,70],[78,72],[82,72],[58,81],[50,80.5],[14,78.5],[16,77],[116,73],[120,73],[125,73.5],[133,71.5],[145,72],[35,29.5],[50,26],[51.5,25.5],[48,29.5],[56.3,27],[58.5,23.5],[60,25.3],[67,25],[70,22],[72.7,21],[73,19],[74,15],[75,12],[76,9.5],[77.5,8],[79,9],[80,13],[82,16.5],[85,19.5],[87,21.5],[89,22],[92,22],[94,17],[97,16.5],[98,9],[100,6],[101.5,3],[103.5,1.3],[104,2],[103.3,5],[100.5,7],[100,13],[101,12.8],[105,9],[106.7,10.3],[109,12],[108,16.5],[106,19],[108,21.5],[110,20],[114,22.3],[117,23.5],[120,26],[121.5,28.5],[122,31],[120,34],[122,37],[118,38],[121.5,39],[125,39.5],[126,37],[126,34.5],[128,35],[129.5,36],[128.5,38],[127.5,39.8],[131,43],[135,44],[140,48],[141,52],[142,46],[143,51],[155,50],[158,53],[163,56],[120,23],[121,25],[121.5,23],[44,12.5],[93,12],[80,7],[80.3,9.5],[92.7,11.7],[68,30],[73.5,4]];
const stationsJapan: Pt[] = [[130,32],[130.5,31.3],[131.5,31.5],[132,33],[130,33.5],[131,34],[132.5,34.2],[133,33],[134,33.5],[135,34],[135.5,33.5],[136.5,34.3],[137,34.6],[138.5,34.7],[139.7,35],[140.8,35.7],[141,37],[141.5,38.5],[142,39.5],[141.5,41],[140,40],[139.5,38.5],[137,37],[136,36],[134,35.5],[132.5,35.4],[141,42.5],[144,43],[145,43.3],[142,45.4],[141,43.2],[133,34.5],[134.5,34.5],[130.7,32.7],[129.5,33],[128,32.6],[131,30.5],[130,28.5],[127.7,26.2],[125,24.5],[136,35],[138,37],[137,36],[135,35],[133,36],[129.5,34.5],[131.5,33],[132,34],[136,33.5],[138,35.3],[139,35.5],[140,36],[140.5,38],[141,39.5],[140,41.5],[128,33.5],[127,36],[127.5,34.7]];
const stationsIndonesia: Pt[] = [[120.5,18],[122,17],[121,14.5],[120,15],[124,12],[125,11],[123,9],[125.5,7],[122,7],[118,9],[117,7],[119,5],[118,2],[117.5,0],[116.5,-2],[113,-3],[110,-2],[109,1],[110,2],[113,3],[115,5],[106,-6],[110,-7],[112.7,-7.5],[115,-8.5],[110,-8],[106.5,-7],[102,-4],[98,2],[95.5,5.5],[100,1],[104,-1],[119.5,-5],[120,-3],[124,1],[125.2,1.5],[127.5,-3.5],[129,-3],[131,-1],[134,-1],[135,-3],[138,-1.6],[141,-2.6],[145,-5],[147,-6.5],[147,-9.5],[123,13],[120.5,14],[122,11],[124,10],[121,12.5],[123.5,8],[125,6],[120,9],[121,6],[105.5,-2],[107,-3],[119,-8.5],[123.5,-10.2],[108,-7.5],[130,-8],[117,-1],[122,-4],[152,-4]];
const stationsAustralasia: Pt[] = [[114,-22],[113.5,-25],[114.5,-28],[115.5,-32],[115,-34],[118,-35],[122,-34],[131,-31.5],[134,-32.5],[136,-34.5],[137.7,-33],[138.5,-35],[140,-38],[143,-38.8],[145,-38.5],[147,-38],[149,-37.8],[150,-37],[150.5,-35.5],[151.2,-33.8],[152.5,-32],[153,-30],[153.3,-28],[153,-26],[151,-24],[149.5,-22],[148,-20],[146.5,-19],[146,-17],[145.5,-15],[143.5,-14],[142.5,-11],[141.7,-13],[140.8,-17.5],[139,-17],[136,-12],[131,-12.3],[130,-13],[128,-15],[124,-16.3],[122,-18],[119,-20],[116,-21],[147,-43],[148,-42],[147,-41],[174.7,-36.8],[176,-37.6],[178,-38],[177,-39.5],[175,-41.3],[174,-39],[174.8,-41.5],[173,-43.5],[171,-45],[170.5,-46],[168,-46.5],[172,-41],[165,-77.7],[170,-78],[162,-79],[137.5,-35],[138,-34.5],[150.7,-34.5],[152,-33],[149,-21]];
const smallIslands: Pt[] = [[69,-49.7],[69.7,-49.4],[37.6,-47],[51.5,-46.5],[52,-46.4],[-179,-33],[-178,-14],[-175,-19],[-165,-20],[-155,-10],[-143,-17],[-138,-20],[-130,-25],[-145,-16],[-170,-10],[-175,-15],[-165,-12],[-48,-60],[-38,-54.5],[-26,-58],[-10,-37],[-5,-40],[10,-54],[78,-38],[70,-47],[100,-53],[159,-54.5],[169,-52],[166,-50.5],[-150,-18],[-152,-16],[163,-55],[178,-45],[150,-60],[175,-62],[-120,-70]];

const allRecords = [...recordsBackdrop, ...recordsArctic, ...recordsFifties, ...recordsForties, ...recordsTropicNorth, ...recordsEquator, ...recordsSouth, ...recordsPolar];
const coasts = [northAmerica, aleutians, chukotkaEnd, baffin, victoriaIsland, banksIsland, ellesmere, devonIsland, melvilleIsland, axelHeiberg, princeWales, somerset, bathurst, ringnes, princePatrick, kingWilliam, coats, southampton, newfoundland, vancouverIsland, cuba, hispaniola, greenland, iceland, southAmerica, chileFjords, chileFjordsOuter, falklands, africa, madagascar, eurasia, caspian, britain, ireland, svalbard, novayaZemlya, franzJosef, severnaya, newSiberian, honshu, hokkaido, kyushu, sakhalin, taiwan, hainan, sriLanka, luzon, visayas, palawan, mindanao, borneo, sumatra, java, sulawesi, lesserSunda, moluccas, newGuinea, newBritain, solomons, australia, tasmania, newZealandNorth, newZealandSouth, antarctica, ...iceShelfIslands, ...bordersNorthAmerica, ...bordersSouthAmerica, ...bordersAfrica, ...bordersEurope, ...bordersAsia, ...bordersOceania];
const stations = [...stationsPacificAmerica, ...stationsGulfAtlantic, ...stationsCaribbean, ...stationsPacificIslands, ...stationsSouthAmerica, ...stationsAfrica, ...stationsEurope, ...stationsAsia, ...stationsJapan, ...stationsIndonesia, ...stationsAustralasia];

const FONT = "'Liberation Sans', Arial, sans-serif";
const AXIS = "#555";
const TEXT = "#1a1a1a";

const xA = d3.scaleLinear().domain([1800, 2015]).range([58, 466]);
const yA = d3.scaleLinear().domain([85, -85]).range([37.5, 359]);
const xB = d3.scaleLinear().domain([-200, 200]).range([573.5, 979.5]);
const yB = d3.scaleLinear().domain([100, -100]).range([42.7, 359.3]);
const line = d3.line<Pt>().x((d) => xB(d[0])).y((d) => yB(d[1]));

export default function App() {
  return (
    <svg width={1005} height={404} style={{ position: "absolute", left: 0, top: 0, background: "#fff" }} fontFamily={FONT}>
      {/* Panel a */}
      {yearTicks.slice(1).map((t) => (
        <line key={t} x1={xA(t)} x2={xA(t)} y1={37.5} y2={359} stroke="#e3e3e3" strokeWidth={1} />
      ))}
      {latTicks.map((t) => (
        <line key={t} x1={58} x2={466} y1={yA(t)} y2={yA(t)} stroke="#e3e3e3" strokeWidth={1} />
      ))}
      {allRecords.map((r, i) => (
        <line key={i} x1={xA(r[1])} x2={xA(r[2])} y1={yA(r[0])} y2={yA(r[0])} stroke={r[3]} strokeWidth={3} strokeLinecap="round" />
      ))}
      <rect x={58} y={37.5} width={408} height={321.5} fill="none" stroke={AXIS} strokeWidth={1.2} />
      {yearTicks.map((t) => (
        <g key={t} stroke={AXIS} strokeWidth={1}>
          <line x1={xA(t)} x2={xA(t)} y1={359} y2={355} />
          <line x1={xA(t)} x2={xA(t)} y1={37.5} y2={41.5} />
        </g>
      ))}
      {latTicks.map((t) => (
        <g key={t} stroke={AXIS} strokeWidth={1}>
          <line x1={58} x2={62} y1={yA(t)} y2={yA(t)} />
          <line x1={466} x2={462} y1={yA(t)} y2={yA(t)} />
        </g>
      ))}
      {yearTicks.map((t) => (
        <text key={t} x={xA(t)} y={381} textAnchor="middle" fontSize={17.5} fill={TEXT}>{t}</text>
      ))}
      {latTicks.map((t) => (
        <text key={t} x={51} y={yA(t) + 6} textAnchor="end" fontSize={17.5} fill={TEXT}>{t}</text>
      ))}
      <text x={14} y={32} fontSize={29} fontWeight="bold" fill="#000">a</text>

      {/* Panel b */}
      {coasts.map((c, i) => (
        <path key={i} d={line(c) ?? ""} fill="none" stroke="#000" strokeWidth={1} strokeLinejoin="round" />
      ))}
      {smallIslands.map((p, i) => (
        <circle key={i} cx={xB(p[0])} cy={yB(p[1])} r={i < 2 ? 1.2 : 0.6} fill={i < 2 ? "#000" : "#666"} />
      ))}
      {stations.map((p, i) => (
        <circle key={i} cx={xB(p[0])} cy={yB(p[1])} r={1.6} fill="#ff0000" />
      ))}
      <rect x={573.5} y={42.7} width={406} height={316.6} fill="none" stroke={AXIS} strokeWidth={1.2} />
      {lonTicksB.map((t) => (
        <g key={t} stroke={AXIS} strokeWidth={1}>
          <line x1={xB(t)} x2={xB(t)} y1={359.3} y2={355.3} />
          <line x1={xB(t)} x2={xB(t)} y1={42.7} y2={46.7} />
        </g>
      ))}
      {latTicksB.map((t) => (
        <g key={t} stroke={AXIS} strokeWidth={1}>
          <line x1={573.5} x2={577.5} y1={yB(t)} y2={yB(t)} />
          <line x1={979.5} x2={975.5} y1={yB(t)} y2={yB(t)} />
        </g>
      ))}
      {lonTicksB.map((t) => (
        <text key={t} x={xB(t)} y={381} textAnchor="middle" fontSize={18} fill={TEXT}>{t}</text>
      ))}
      {latTicksB.map((t) => (
        <text key={t} x={565} y={yB(t) + 6.5} textAnchor="end" fontSize={18} fill={TEXT}>{t}</text>
      ))}
      <text x={776.5} y={399} textAnchor="middle" fontSize={20} fill={TEXT}>Longitude</text>
      <text transform="translate(519,200) rotate(-90)" textAnchor="middle" fontSize={20} fill={TEXT}>Latitude</text>
      <text x={503} y={31} fontSize={29} fontWeight="bold" fill="#000">b</text>
    </svg>
  );
}
